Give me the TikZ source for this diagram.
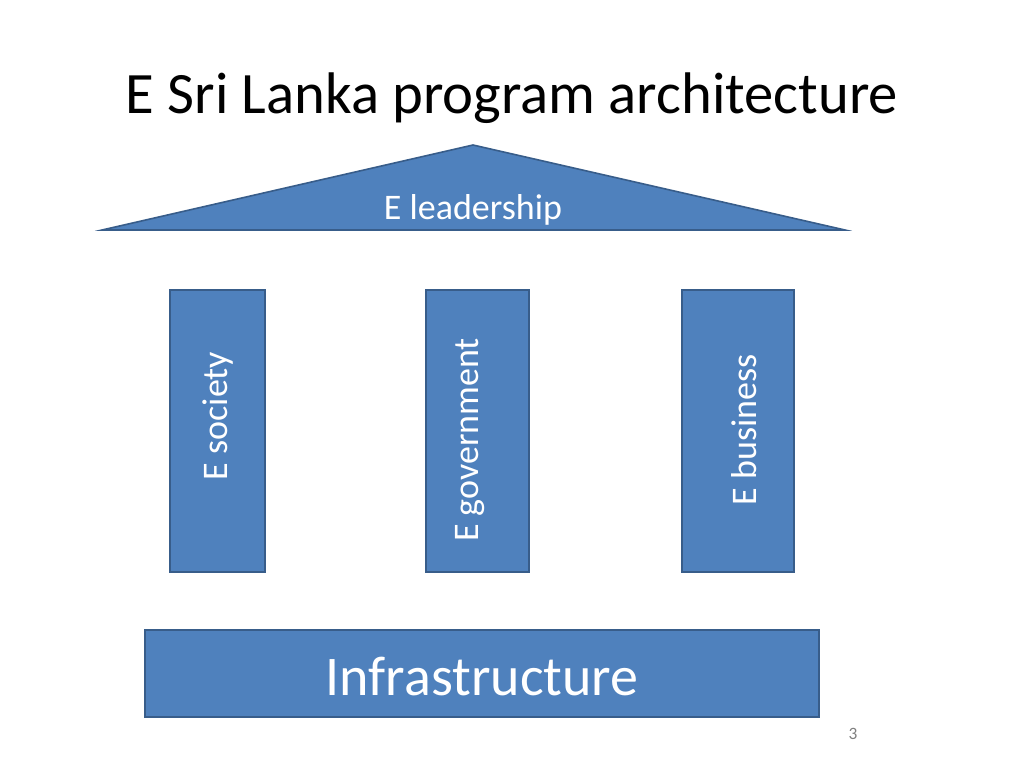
\documentclass[tikz,border=0pt]{standalone}
\usepackage{fontspec}
\setmainfont{Carlito}
\begin{document}
\begin{tikzpicture}[x=0.75pt,y=-0.75pt,
  blk/.style={fill={rgb,255:red,79;green,129;blue,189},draw={rgb,255:red,56;green,93;blue,138},line width=1.2pt},
  lbl/.style={text=white,font=\fontsize{27}{30}\selectfont,inner sep=0pt}]
\useasboundingbox (0,0) rectangle (1024,768);
\node[font=\fontsize{44}{50}\selectfont] (title) at (512,98) {E Sri Lanka program architecture};
\draw[blk] (102,230) -- (473,145) -- (845,230) -- cycle;
\node[lbl] (lead) at (473,210) {E leadership};
\draw[blk] (170,290) rectangle (265,572);
\draw[blk] (426,290) rectangle (529,572);
\draw[blk] (682,290) rectangle (794,572);
\node[lbl,rotate=90] (soc) at (218,416) {E society};
\node[lbl,rotate=90] (gov) at (470,440) {E government};
\node[lbl,rotate=90] (bus) at (744,430) {E business};
\draw[blk] (145,630) rectangle (819,717);
\node[lbl,font=\fontsize{42}{46}\selectfont] (inf) at (482,676) {Infrastructure};
\node[text=gray,font=\fontsize{13}{15}\selectfont] (num) at (853,734) {3};
\end{tikzpicture}
\end{document}
